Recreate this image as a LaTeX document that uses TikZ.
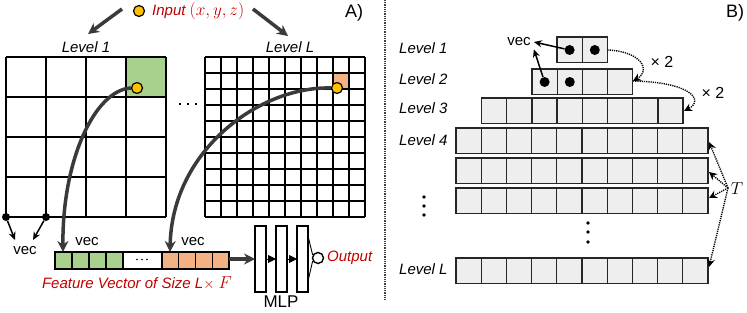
\documentclass[tikz,border=0pt]{standalone}
\usepackage{fontspec}
\setmainfont{Liberation Sans}
\usetikzlibrary{arrows.meta}
\definecolor{gfill}{HTML}{A9D18E}
\definecolor{ofill}{HTML}{F4B183}
\definecolor{dotfill}{HTML}{FFC000}
\definecolor{redtxt}{HTML}{C00000}
\definecolor{cellgray}{HTML}{EEEEEE}
\definecolor{darkline}{HTML}{3A3A3A}
\tikzset{
  txt/.style={font=\fontsize{15}{18}\selectfont, inner sep=1pt},
  itxt/.style={font=\fontsize{15}{18}\selectfont\itshape, inner sep=1pt},
  redlbl/.style={itxt, text=redtxt},
  ydot/.style={circle, draw=black, line width=1.2pt, fill=dotfill, minimum size=11pt, inner sep=0pt},
  bdot/.style={circle, fill=black, minimum size=8pt, inner sep=0pt},
  bigarrow/.style={line width=3.5pt, draw=darkline, -{Stealth[length=11pt,width=11pt]}},
  thinarrow/.style={line width=1.5pt, -{Stealth[length=8pt,width=7pt]}},
  dotarrow/.style={line width=1.4pt, dash pattern=on 1.2pt off 1pt, -{Stealth[length=8pt,width=8pt]}},
  gridline/.style={line width=1.5pt, draw=black},
  cellline/.style={line width=1.3pt, draw=black!85, fill=cellgray},
  mlpbox/.style={draw=black, line width=1.4pt, fill=white},
}
\begin{document}
\begin{tikzpicture}[x=1pt,y=-1pt]
\useasboundingbox (0,0) rectangle (747,313);

% ---------------- Part A ----------------
\node[ydot] (inp) at (139,11) {};
\node[redlbl, anchor=west] (inptxt) at (151,11) {Input {\fontsize{18}{20}\selectfont$(x,y,z)$}};
\node[txt, font=\fontsize{18}{20}\selectfont] (labA) at (354,13) {A)};
\coordinate (ia1) at (122,9);
\coordinate (ib1) at (88,34);
\coordinate (ia2) at (253,9);
\coordinate (ib2) at (288,36);
\draw[bigarrow] (ia1) -- (ib1);
\draw[bigarrow] (ia2) -- (ib2);

\node[itxt] (lv1A) at (86,47) {Level 1};
\node[itxt] (lvLA) at (290,47) {Level L};

% grid 1
\fill[gfill] (126,57) rectangle (166,97);
\foreach \i in {0,...,4} {
  \draw[gridline] (6+40*\i,57) -- (6+40*\i,217);
  \draw[gridline] (6,57+40*\i) -- (166,57+40*\i);
}
% grid 2
\fill[ofill] (333,73) rectangle (349,89);
\foreach \i in {0,...,10} {
  \draw[gridline] (205+16*\i,57) -- (205+16*\i,217);
  \draw[gridline] (205,57+16*\i) -- (365,57+16*\i);
}
% dots between grids
\foreach \x in {180,188,196} \fill (\x-1.4,102.6) rectangle (\x+1.4,105.4);

% corner dots and vec
\node[bdot] (c1) at (6,217) {};
\node[bdot] (c2) at (46,217) {};
\node[txt] (vecA) at (25,251) {vec};
\coordinate (va1) at (15,240);
\coordinate (va2) at (33,240);
\draw[thinarrow] (c1) -- (va1);
\draw[thinarrow] (c2) -- (va2);

% feature vector
\foreach \i in {0,...,3} {
  \draw[line width=1.4pt, fill=gfill] (55+17*\i,252) rectangle (72+17*\i,269);
  \draw[line width=1.4pt, fill=ofill] (162+16.75*\i,252) rectangle (178.75+16.75*\i,269);
}
\draw[line width=1.4pt, fill=white] (123,252) rectangle (162,269);
\foreach \x in {137,142,147} \fill (\x,259.5) circle (0.8);
\coordinate (fvg) at (63,252);
\coordinate (fvo) at (170,252);
\coordinate (fvend) at (229,259);
\node[txt] (vec1) at (87,242) {vec};
\node[txt] (vec2) at (193,242) {vec};
\node[redlbl] (fvtxt) at (137,283) {Feature Vector of Size L{\upshape$\times$} {\fontsize{17}{19}\selectfont$F$}};

% curves
\node[ydot] (d1) at (137,88) {};
\node[ydot] (d2) at (337,88) {};
\draw[bigarrow] (d1.west) .. controls (95,90) and (62,160) .. (fvg);
\draw[bigarrow] (d2.west) .. controls (260,86) and (172,150) .. (fvo);

% MLP
\draw[mlpbox] (255,226) rectangle (266,292);
\draw[mlpbox] (276,226) rectangle (287,292);
\draw[mlpbox] (297,226) rectangle (308,292);
\coordinate (m1) at (255,259);
\draw[bigarrow] (fvend) -- (m1);
\coordinate (m1r) at (266,259);
\coordinate (m2l) at (276,259);
\coordinate (m2r) at (287,259);
\coordinate (m3l) at (297,259);
\draw[line width=1pt, -{Triangle[length=8pt,width=8pt]}] (m1r) -- (m2l);
\draw[line width=1pt, -{Triangle[length=8pt,width=8pt]}] (m2r) -- (m3l);
\node[circle, draw=black, line width=1.4pt, fill=white, minimum size=11pt, inner sep=0pt] (oc) at (318,258) {};
\coordinate (m3t) at (308,236);
\coordinate (m3b) at (308,281);
\draw[line width=0.9pt] (m3t) -- (oc.150);
\draw[line width=0.9pt] (m3b) -- (oc.210);
\node[redlbl, anchor=west] (outtxt) at (326,258) {Output};
\node[txt, font=\fontsize{17}{19}\selectfont] (mlp) at (281,302) {MLP};

% divider
\draw[line width=1.2pt, draw=black!75, dash pattern=on 1pt off 0.8pt] (385,0) -- (385,300);

% ---------------- Part B ----------------
\node[txt, font=\fontsize{18}{20}\selectfont] (labB) at (735,13) {B)};
\node[itxt, anchor=west] (lb1) at (398,48) {Level 1};
\node[itxt, anchor=west] (lb2) at (398,79) {Level 2};
\node[itxt, anchor=west] (lb3) at (398,108) {Level 3};
\node[itxt, anchor=west] (lb4) at (398,140) {Level 4};
\node[itxt, anchor=west] (lbL) at (398,269) {Level L};

\def\cw{25.2}
% rows: x0, n, y
\foreach \xo/\n/\yo in {557/2/37, 532/4/69, 481.5/8/98, 456/10/128, 456/10/158, 456/10/188, 456/10/258} {
  \foreach \k in {1,...,\n} {
    \draw[cellline] ({\xo+(\k-1)*\cw},\yo) rectangle ({\xo+\k*\cw},\yo+25.2);
  }
}
\coordinate (r1e) at (607.4,50);
\coordinate (r2e) at (633,81);
\coordinate (r3e) at (684,111);
\coordinate (r4e) at (709,142);
\coordinate (r5e) at (709,172);
\coordinate (r6e) at (709,198);
\coordinate (rLe) at (709,267);

\node[bdot, minimum size=10pt] (p1) at (569.6,50) {};
\node[bdot, minimum size=10pt] (p2) at (594.8,50) {};
\node[bdot, minimum size=10pt] (p3) at (544.6,82) {};
\node[bdot, minimum size=10pt] (p4) at (569.8,82) {};
\node[txt, inner sep=3pt] (vecB) at (519,42) {vec};
\draw[thinarrow] (p1) -- (vecB.east);
\draw[thinarrow] (p3) -- (vecB.south east);

\draw[dotarrow] (r1e) .. controls (640,51) and (652,70) .. (r2e);
\draw[dotarrow] (r2e) .. controls (690,82) and (705,100) .. (r3e);
\node[txt, font=\fontsize{16}{18}\selectfont] (x2a) at (662,62) {× 2};
\node[txt, font=\fontsize{16}{18}\selectfont] (x2b) at (713,93) {× 2};

\node[font=\fontsize{19}{21}\selectfont, inner sep=1pt] (T) at (737,189) {$T$};
\coordinate (ts) at (728,188);
\draw[dotarrow] (ts) -- (r4e);
\draw[dotarrow] (ts) -- (r5e);
\draw[dotarrow] (ts) -- (r6e);
\draw[dotarrow] (ts) -- (rLe);

\foreach \y in {197,206,215} \fill (424,\y) circle (1.8);
\foreach \y in {223,232,242} \fill (588,\y) circle (1.8);
\end{tikzpicture}
\end{document}
